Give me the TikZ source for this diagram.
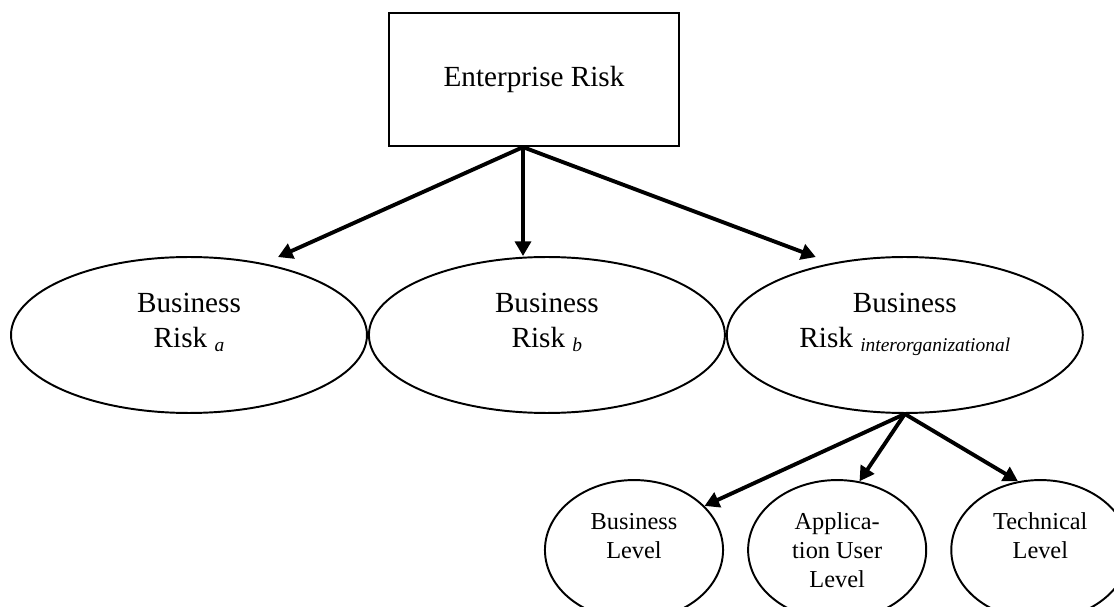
\documentclass[tikz,border=0pt]{standalone}
\usepackage{fontspec}
\setmainfont{Liberation Serif}
\usetikzlibrary{positioning,arrows.meta,calc,shapes.geometric}
\tikzset{
  risk box/.style={
    draw,
    line width=0.9pt,
    minimum width=119.2pt,
    minimum height=54.7pt,
    inner sep=0pt,
    font=\fontsize{12}{14.4}\selectfont,
  },
  risk ellipse/.style={
    ellipse,
    draw,
    line width=0.8pt,
    minimum width=146.3pt,
    minimum height=64.1pt,
    inner sep=0pt,
  },
  level ellipse/.style={
    ellipse,
    draw,
    line width=0.8pt,
    minimum width=73.2pt,
    minimum height=57.5pt,
    inner sep=0pt,
  },
  risk label/.style={
    align=center,
    anchor=base,
    inner sep=0pt,
    font=\fontsize{12}{14.4}\selectfont,
  },
  level label/.style={
    align=center,
    anchor=base,
    inner sep=0pt,
    font=\fontsize{10}{11.9}\selectfont,
  },
  link/.style={
    line width=1.6pt,
    -{Triangle[length=6pt,width=6.5pt]},
  }
}
\newcommand{\risksub}[1]{\raisebox{-1.5pt}{\fontsize{8}{9}\selectfont\itshape #1}}

\begin{document}
\begin{tikzpicture}[x=0.411pt, y=-0.411pt]
        \clip (0,0) rectangle (1114,607);

        \node [risk box] (er) at (534,79.5) {Enterprise Risk};

        \node [risk ellipse] (bra) at (189,335) {};
        \node [risk ellipse, right=0pt of bra] (brb) {};
        \node [risk ellipse, right=0pt of brb] (bri) {};

        \node [level ellipse] (bl) at (634,550) {};
        \node [level ellipse, right=9.5pt of bl] (aul) {};
        \node [level ellipse, right=9.5pt of aul] (tl) {};

        % base of a label is its last line
        \node [risk label] (bra-t) at ($(bra.center)+(0,13)$) {Business\\Risk \risksub{a}};
        \node [risk label] (brb-t) at ($(brb.center)+(0,13)$) {Business\\Risk \risksub{b}};
        \node [risk label] (bri-t) at ($(bri.center)+(0,13)$) {Business\\Risk \risksub{interorganizational}};

        \node [level label] (bl-t) at ($(bl.center)+(0,8)$) {Business\\Level};
        \node [level label] (aul-t) at ($(aul.center)+(0,37)$) {Applica-\\tion User\\Level};
        \node [level label] (tl-t) at ($(tl.center)+(0,8)$) {Technical\\Level};

        \coordinate (fork) at ($(er.south)+(-11,0)$);
        \draw [link] (fork) -- ($(bra.north)+(89,1)$);
        \draw [link] (fork) -- (fork |- brb.north);
        \draw [link] (fork) -- ($(bri.north)+(-89,1)$);

        \draw [link] (bri.south) -- (bl.32);
        \draw [link] (bri.south) -- (aul.72);
        \draw [link] (bri.south) -- (tl.108);
      \end{tikzpicture}
\end{document}
